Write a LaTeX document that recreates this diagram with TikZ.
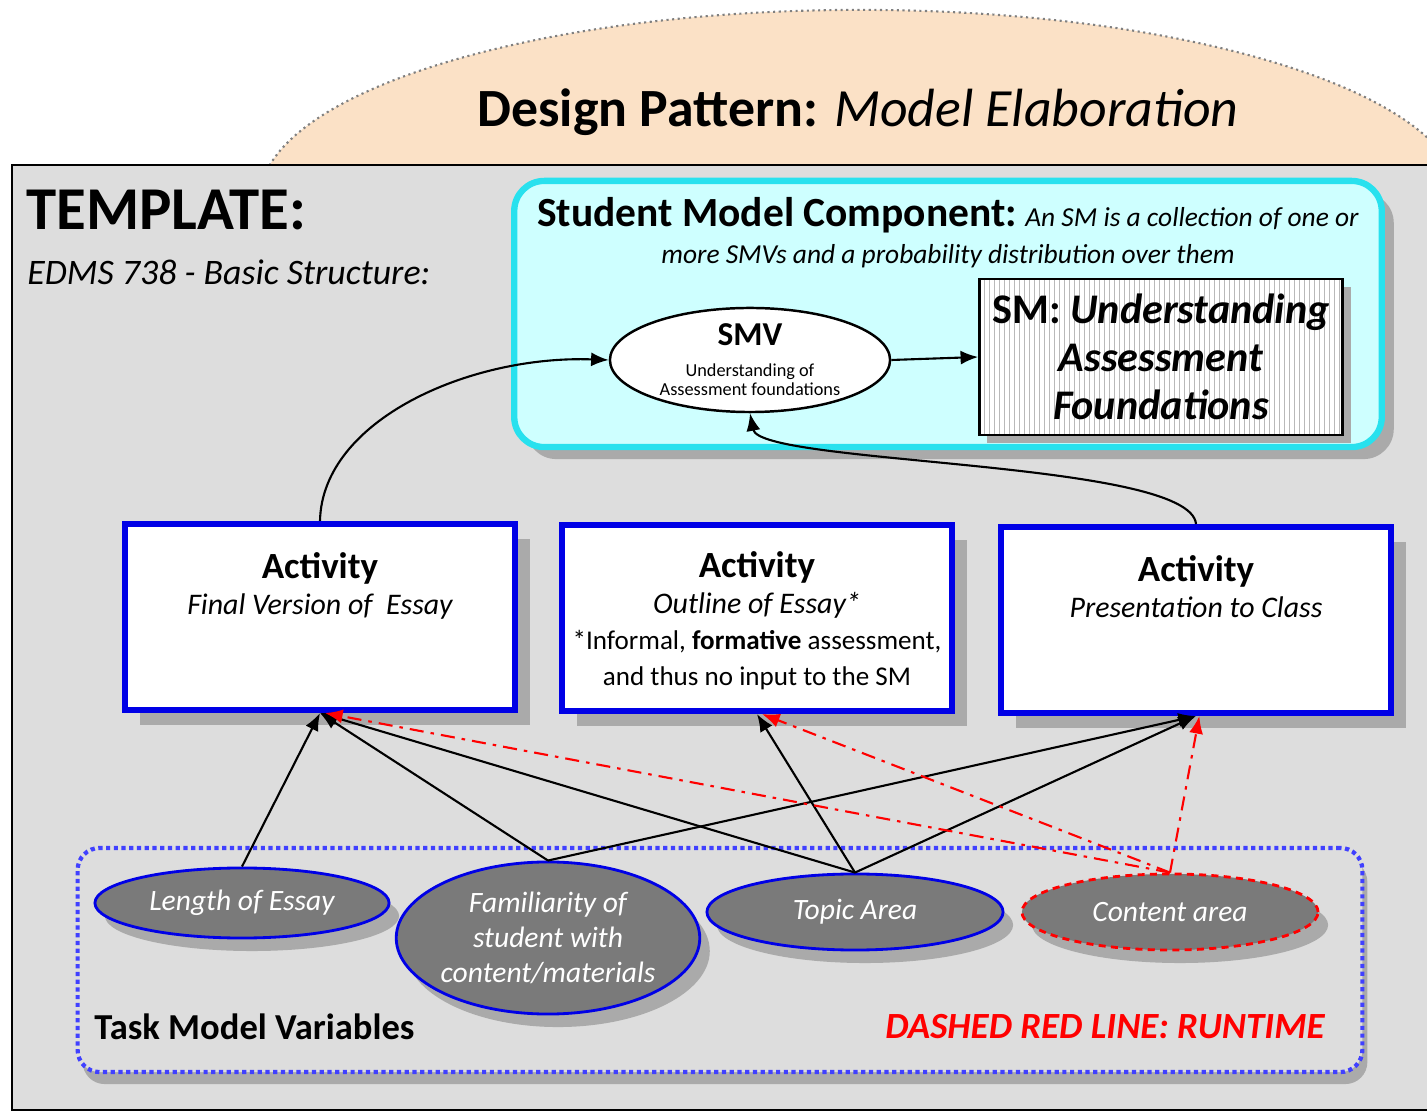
\documentclass[tikz,border=0pt]{standalone}
\usepackage{fontspec}
\setmainfont{Carlito}
\usetikzlibrary{positioning,shapes.geometric,arrows.meta,shadows}
\definecolor{peach}{RGB}{251,225,198}
\definecolor{tmplgray}{RGB}{221,221,221}
\definecolor{smcyan}{RGB}{206,255,255}
\definecolor{smrim}{RGB}{40,225,238}
\definecolor{actblue}{RGB}{0,0,230}
\definecolor{tmvgray}{RGB}{122,122,122}
\definecolor{shade}{RGB}{170,170,170}
\newcommand{\setfs}[2]{\fontsize{#1}{#2}\selectfont}
\tikzset{
    actbox/.style={draw=actblue, line width=1.7pt, fill=white,
        minimum width=3.9cm, minimum height=1.86cm,
        drop shadow={shadow xshift=0.15cm, shadow yshift=-0.15cm, fill=shade, opacity=1}},
    acttext/.style={align=center, inner sep=0pt, font=\setfs{7.7pt}{10.2pt}},
    tmv/.style={ellipse, draw=actblue, line width=0.8pt, fill=tmvgray, text=white,
        align=center, inner sep=0pt, font=\setfs{8.4pt}{9.9pt}\itshape,
        drop shadow={shadow xshift=0.1cm, shadow yshift=-0.13cm, fill=shade, opacity=1}},
    conn/.style={-{Latex[length=5pt,width=4pt]}, line width=0.6pt},
    runtime/.style={-{Latex[length=5pt,width=4pt]}, red, line width=0.6pt,
        dash pattern=on 4pt off 2pt on 1pt off 2pt},
}
\begin{document}
\begin{tikzpicture}[x=0.01cm,y=-0.01cm]
    \useasboundingbox (0,0) rectangle (1427,1113);
    % dome with the title
    \begin{scope}
        \clip (0,0) rectangle (1427,166);
        \draw[fill=peach, draw=gray, densely dotted, line width=0.6pt] (860,200) ellipse [x radius=6cm, y radius=1.9cm];
    \end{scope}
    \node (title) at (858,112) {\setfs{15.3pt}{18pt}\textbf{Design Pattern:} \textit{Model Elaboration}};

    % template panel
    \draw[fill=tmplgray, line width=0.6pt] (12,165) rectangle (1440,1110);
    \node[anchor=west] (tmpl) at (14,210) {\setfs{17.3pt}{18pt}\bfseries TEMPLATE:};
    \node[anchor=west] (edms) at (15,272) {\setfs{10.2pt}{12pt}\itshape EDMS 738 - Basic Structure:};

    % student model component
    \node[draw=smrim, line width=1.8pt, fill=smcyan, rounded corners=0.3cm,
        minimum width=8.67cm, minimum height=2.66cm,
        drop shadow={shadow xshift=0.12cm, shadow yshift=-0.12cm, fill=shade, opacity=1}] (smc) at (948,314) {};
    \node[align=center, font=\setfs{7.8pt}{10.5pt}] (smctxt) at (948,233)
        {{\setfs{11.8pt}{10.5pt}\bfseries Student Model Component:} \textit{An SM is a collection of one or}\\
        \textit{more SMVs and a probability distribution over them}};
    \node[ellipse, draw, fill=white, line width=0.7pt, minimum width=2.8cm, minimum height=1.04cm,
        inner sep=0pt, align=center, font=\setfs{5.2pt}{5.4pt}] (smv) at (750,360)
        {{\setfs{9.5pt}{10pt}\bfseries SMV}\\[3.4pt] Understanding of\\ Assessment foundations};
    \node[drop shadow={shadow xshift=0.08cm, shadow yshift=-0.08cm, fill=shade, opacity=1},
        draw, line width=0.7pt, fill=white,
        path picture={
            \foreach \sx in {1,2,...,73}
                \draw[gray!55, line width=0.35pt] ([xshift=\sx*0.05cm]path picture bounding box.south west)
                    -- ([xshift=\sx*0.05cm]path picture bounding box.north west);
        },
        minimum width=3.63cm, minimum height=1.56cm, align=center, font=\setfs{12pt}{13.6pt}\bfseries] (smbox) at (1161,357)
        {SM: \textit{Understanding}\\ \textit{Assessment}\\ \textit{Foundations}};
    \draw[conn] (smv.east) -- (smbox.west);

    % activities
    \node[actbox] (act1) at (320,617) {};
    \node[actbox] (act2) at (757,618) {};
    \node[actbox] (act3) at (1196,620) {};
    \node[acttext, below=0.31cm of act1.north] (act1txt)
        {{\setfs{10.5pt}{10pt}\bfseries Activity}\\ {\setfs{8.5pt}{10pt}\itshape Final Version of \ Essay}};
    \node[acttext, below=0.29cm of act2.north] (act2txt)
        {{\setfs{10.5pt}{10pt}\bfseries Activity}\\ {\setfs{8.5pt}{10pt}\itshape Outline of Essay*}\\
        *Informal, \textbf{formative} assessment,\\ and thus no input to the SM};
    \node[acttext, below=0.31cm of act3.north] (act3txt)
        {{\setfs{10.5pt}{10pt}\bfseries Activity}\\ {\setfs{8.5pt}{10pt}\itshape Presentation to Class}};

    \draw[conn] (act1.north) .. controls (322,420) and (470,355) .. (smv.west);
    \draw[conn] (act3.north) .. controls (1190,460) and (760,465) .. (smv.south);

    % task model variables
    \node[draw=blue!75, line width=1.2pt, densely dotted, rounded corners=0.22cm, fill=tmplgray,
        minimum width=12.84cm, minimum height=2.24cm,
        drop shadow={shadow xshift=0.05cm, shadow yshift=-0.12cm, fill=shade, opacity=1}] (tmvbox) at (720,960) {};
    \node[tmv, minimum width=2.94cm, minimum height=0.7cm] (len) at (242,903) {Length of Essay};
    \node[tmv, minimum width=2.96cm, minimum height=1.52cm] (fam) at (548,938)
        {Familiarity of\\ student with\\ content/materials};
    \node[tmv, minimum width=2.96cm, minimum height=0.76cm] (topic) at (855,912) {Topic Area};
    \node[tmv, draw=red, dash pattern=on 2pt off 1.5pt, minimum width=2.96cm, minimum height=0.76cm] (content) at (1170,912)
        {Content area};
    \node[anchor=west] (tmvlabel) at (82,1027) {\setfs{10.4pt}{12pt}\bfseries Task Model Variables};
    \node[anchor=east, text=red] (rtlabel) at (1337,1027) {\setfs{10.5pt}{12pt}\bfseries\itshape DASHED RED LINE: RUNTIME};

    % links
    \draw[conn] (len.north) -- (act1.south);
    \draw[conn] (fam.north) -- (act1.south);
    \draw[conn] (fam.north) -- (act3.south);
    \draw[conn] (topic.north) -- (act1.south);
    \draw[conn] (topic.north) -- (act2.south);
    \draw[conn] (topic.north) -- (act3.south);
    \draw[runtime] (content.north) -- (act1.-87);
    \draw[runtime] (content.north) -- (act2.-87);
    \draw[runtime] (content.north) -- (act3.-88);
\end{tikzpicture}
\end{document}
